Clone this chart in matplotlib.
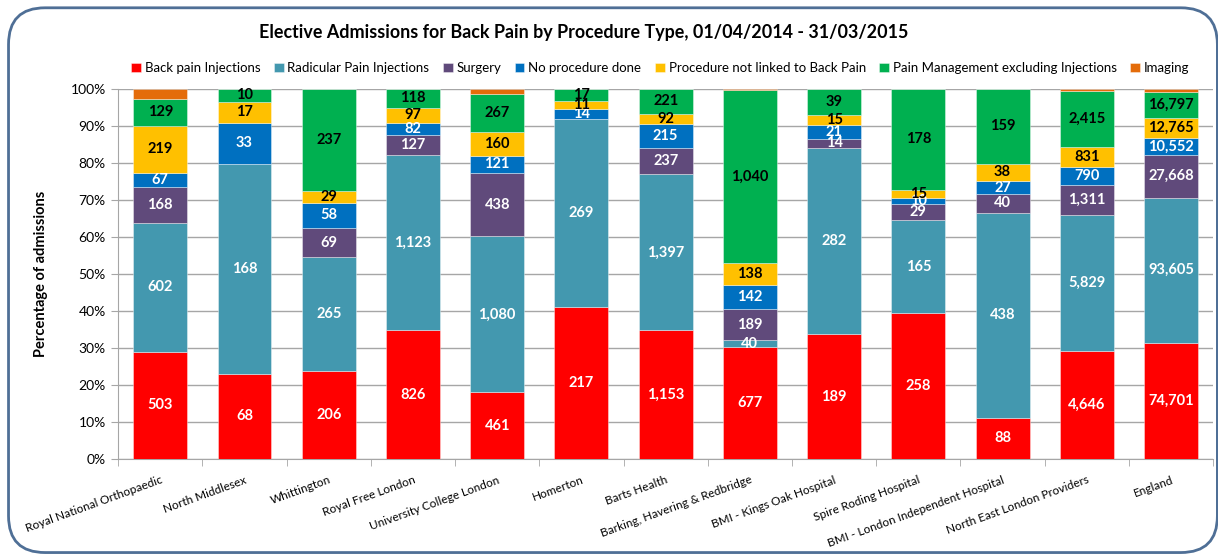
import matplotlib
matplotlib.use("Agg")
import matplotlib.pyplot as plt
from matplotlib.patches import FancyBboxPatch
import numpy as np

plt.rcParams['font.family'] = ['Lato', 'DejaVu Sans']

hospitals = ["Royal National Orthopaedic", "North Middlesex", "Whittington", "Royal Free London",
             "University College London", "Homerton", "Barts Health", "Barking, Havering & Redbridge",
             "BMI - Kings Oak Hospital", "Spire Roding Hospital", "BMI - London Independent Hospital",
             "North East London Providers", "England"]

back_pain_injections = [503, 68, 206, 826, 461, 217, 1153, 677, 189, 258, 88, 4646, 74701]
radicular_pain_injections = [602, 168, 265, 1123, 1080, 269, 1397, 40, 282, 165, 438, 5829, 93605]
surgery = [168, 0, 69, 127, 438, 0, 237, 189, 14, 29, 40, 1311, 27668]
no_procedure_done = [67, 33, 58, 82, 121, 14, 215, 142, 21, 10, 27, 790, 10552]
procedure_not_linked = [219, 17, 29, 97, 160, 11, 92, 138, 15, 15, 38, 831, 12765]
pain_management = [129, 10, 237, 118, 267, 17, 221, 1040, 39, 178, 159, 2415, 16797]
imaging = [44, 0, 0, 0, 33, 0, 0, 8, 0, 0, 0, 85, 2000]

series_names = ["Back pain Injections", "Radicular Pain Injections", "Surgery", "No procedure done",
                "Procedure not linked to Back Pain", "Pain Management excluding Injections", "Imaging"]
series_values = [back_pain_injections, radicular_pain_injections, surgery, no_procedure_done,
                 procedure_not_linked, pain_management, imaging]
colors = ["#FF0000", "#4398AF", "#604A7B", "#0070C0", "#FFC000", "#00B050", "#E46C0A"]
label_colors = ["white", "white", "white", "white", "black", "black", None]

fig = plt.figure(figsize=(12.18, 5.57), dpi=100)
ax = fig.add_axes([0.097, 0.176, 0.899, 0.664])

data = np.array(series_values, dtype=float)
totals = data.sum(axis=0)
pct = data / totals * 100
x = np.arange(len(hospitals))
bottom = np.zeros(len(hospitals))
for i, name in enumerate(series_names):
    bars = ax.bar(x, pct[i], 0.64, bottom=bottom, color=colors[i], label=name,
                  edgecolor=(1, 1, 1, 0.45), linewidth=0.6, zorder=3)
    if label_colors[i] is not None:
        for j, b in enumerate(bars):
            v = data[i][j]
            if v > 0:
                ax.text(b.get_x() + b.get_width() / 2, bottom[j] + pct[i][j] / 2, f"{int(v):,}",
                        ha='center', va='center', color=label_colors[i], fontsize=10.5,
                        fontweight='bold', zorder=4)
    bottom += pct[i]

ax.set_ylim(0, 100)
ax.set_xlim(-0.5, len(hospitals) - 0.5)
ax.set_yticks(np.arange(0, 101, 10))
ax.set_yticklabels([f"{v}%" for v in range(0, 101, 10)], fontsize=10)
ax.yaxis.grid(True, color='#A6A6A6', linewidth=1.0, zorder=0)
ax.set_axisbelow(True)
for s in ['top', 'right']:
    ax.spines[s].set_visible(False)
for s in ['left', 'bottom']:
    ax.spines[s].set_color('#A6A6A6')
ax.tick_params(axis='y', length=5, color='#A6A6A6', pad=4)
ax.set_xticks(x)
ax.set_xticklabels(hospitals, rotation=20, ha='right', rotation_mode='anchor', fontsize=8.5)
ax.tick_params(axis='x', length=0, pad=11)
ax.set_xticks(np.arange(-0.5, len(hospitals), 1), minor=True)
ax.tick_params(axis='x', which='minor', length=5, color='#A6A6A6')
ax.set_ylabel("Percentage of admissions", fontsize=10.5, fontweight='bold', labelpad=16)

fig.text(0.479, 0.942, "Elective Admissions for Back Pain by Procedure Type, 01/04/2014 - 31/03/2015",
         ha='center', va='center', fontsize=12.9, fontweight='bold')
fig.legend(loc='center', bbox_to_anchor=(0.542, 0.878), ncol=7, frameon=False, fontsize=9.5,
           handlelength=0.75, handleheight=0.75, handletextpad=0.3, columnspacing=1.0)

border = FancyBboxPatch((0.007, 0.008), 0.9925, 0.978, boxstyle="round,pad=0,rounding_size=0.03",
                        transform=fig.transFigure, facecolor='none', edgecolor='#4F6F96',
                        linewidth=2, mutation_aspect=2.19)
fig.patches.append(border)

fig.savefig("out.png", dpi=100)
